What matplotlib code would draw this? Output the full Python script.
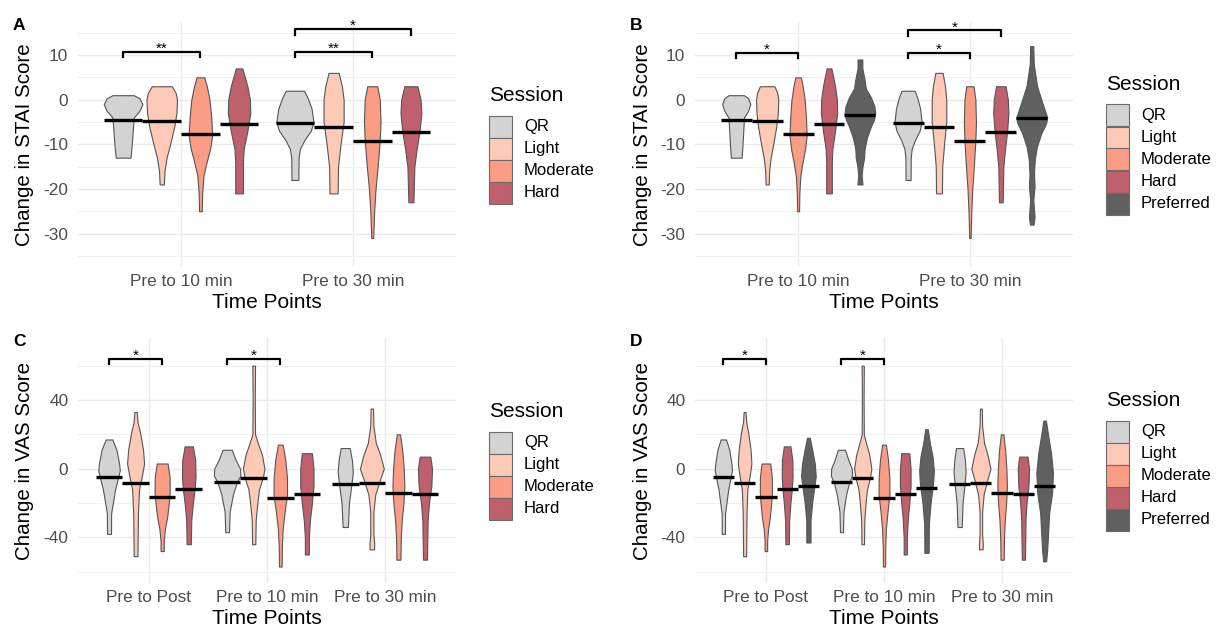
import numpy as np
import matplotlib
matplotlib.use('Agg')
import matplotlib.pyplot as plt
from matplotlib.patches import Rectangle

plt.rcParams['font.family'] = ['Liberation Sans', 'DejaVu Sans']
plt.rcParams['axes.unicode_minus'] = False

W, H = 1217, 630

sessions = ['QR', 'Light', 'Moderate', 'Hard', 'Preferred']
session_colors = ['#D3D3D3', '#FCCAB6', '#FB9C85', '#C0606D', '#606060']

stai_times = ['Pre to 10 min', 'Pre to 30 min']
vas_times = ['Pre to Post', 'Pre to 10 min', 'Pre to 30 min']

# violin outlines: (score change, relative density width), top to bottom
stai10_qr = [(1, 0.55), (0.3, 0.85), (-1, 1.0), (-2.5, 0.85), (-4, 0.55), (-7, 0.5), (-10, 0.45), (-13, 0.38)]
stai10_light = [(3, 0.52), (1.5, 0.72), (0, 0.79), (-3, 0.76), (-6, 0.65), (-10, 0.43), (-13, 0.25), (-16, 0.14), (-19, 0.11)]
stai10_mod = [(5, 0.2), (3, 0.33), (0, 0.47), (-4, 0.56), (-8, 0.61), (-11, 0.5), (-14, 0.32), (-17, 0.16), (-21, 0.09), (-25, 0.07)]
stai10_hard = [(7, 0.17), (5, 0.3), (3, 0.43), (0, 0.56), (-3, 0.58), (-7, 0.43), (-11, 0.24), (-14, 0.2), (-21, 0.2)]
stai10_pref = [(9, 0.17), (7, 0.17), (4.5, 0.33), (2.5, 0.42), (0.5, 0.78), (-1.5, 1.03), (-3, 1.09), (-4.5, 1.0),
               (-6, 0.78), (-8.5, 0.5), (-11, 0.33), (-13, 0.3), (-15, 0.18), (-17, 0.12), (-19, 0.18)]

stai30_qr = [(2, 0.47), (0.5, 0.65), (-2, 0.86), (-5, 0.96), (-7, 0.82), (-9, 0.5), (-11, 0.26), (-13, 0.19), (-18, 0.18)]
stai30_light = [(6, 0.26), (3, 0.43), (0, 0.52), (-5, 0.52), (-10, 0.36), (-15, 0.23), (-21, 0.21)]
stai30_mod = [(3, 0.26), (0, 0.39), (-5, 0.43), (-9, 0.39), (-15, 0.28), (-20, 0.17), (-25, 0.1), (-31, 0.05)]
stai30_hard = [(3, 0.34), (0, 0.5), (-3, 0.54), (-7, 0.45), (-11, 0.3), (-15, 0.18), (-23, 0.13)]
stai30_pref = [(12, 0.11), (8, 0.14), (5, 0.28), (3, 0.38), (0.5, 0.63), (-2.3, 0.92), (-4, 1.1), (-5.3, 1.02),
               (-7.6, 0.67), (-10.6, 0.36), (-13.5, 0.21), (-16.5, 0.16), (-19.5, 0.2), (-22.5, 0.11), (-26.3, 0.2), (-28, 0.13)]

vaspp_qr = [(17, 0.25), (11, 0.56), (3, 0.76), (-1, 0.81), (-5, 0.69), (-12, 0.46), (-20, 0.29), (-26, 0.16), (-38, 0.15)]
vaspp_light = [(33, 0.09), (27, 0.15), (21, 0.34), (11, 0.56), (3, 0.64), (-4, 0.48), (-12, 0.26), (-26, 0.18), (-51, 0.14)]
vaspp_mod = [(3, 0.41), (-5, 0.56), (-14, 0.57), (-20, 0.5), (-28, 0.38), (-35, 0.21), (-42, 0.12), (-48, 0.12)]
vaspp_hard = [(13, 0.31), (5, 0.49), (-5, 0.51), (-12, 0.44), (-20, 0.31), (-30, 0.19), (-44, 0.16)]
vaspp_pref = [(18, 0.13), (11, 0.36), (3, 0.6), (-4.5, 0.69), (-10, 0.57), (-20, 0.35), (-30, 0.2), (-43, 0.2)]

vas10_qr = [(11, 0.34), (5, 0.65), (0, 0.97), (-4, 1.0), (-8, 0.72), (-15, 0.44), (-25, 0.19), (-37, 0.14)]
vas10_light = [(60, 0.1), (40, 0.08), (20, 0.1), (14, 0.35), (8, 0.62), (0, 0.81), (-5, 0.69), (-12, 0.4),
               (-20, 0.27), (-30, 0.15), (-44, 0.12)]
vas10_mod = [(14, 0.18), (5, 0.38), (-5, 0.5), (-15, 0.51), (-25, 0.33), (-35, 0.18), (-45, 0.12), (-57, 0.1)]
vas10_hard = [(9, 0.38), (0, 0.5), (-10, 0.5), (-20, 0.38), (-30, 0.23), (-40, 0.15), (-50, 0.15)]
vas10_pref = [(23, 0.12), (15, 0.31), (7, 0.57), (-1, 0.69), (-8, 0.63), (-20, 0.38), (-32, 0.22), (-49, 0.2)]

vas30_qr = [(12, 0.34), (5, 0.5), (-2, 0.57), (-10, 0.45), (-20, 0.28), (-34, 0.2)]
vas30_light = [(35, 0.09), (25, 0.12), (15, 0.3), (8, 0.63), (0, 0.9), (-6, 0.63), (-15, 0.26), (-25, 0.12),
               (-38, 0.12), (-44, 0.18), (-47, 0.17)]
vas30_mod = [(20, 0.12), (10, 0.3), (0, 0.4), (-10, 0.45), (-20, 0.38), (-30, 0.25), (-40, 0.18), (-53, 0.15)]
vas30_hard = [(7, 0.4), (0, 0.53), (-10, 0.48), (-20, 0.3), (-30, 0.2), (-40, 0.18), (-53, 0.15)]
vas30_pref = [(28, 0.12), (19, 0.34), (9, 0.6), (-2.5, 0.78), (-14, 0.7), (-26, 0.42), (-37, 0.33), (-47, 0.24), (-54, 0.14)]

stai_profiles = [[stai10_qr, stai10_light, stai10_mod, stai10_hard, stai10_pref],
                 [stai30_qr, stai30_light, stai30_mod, stai30_hard, stai30_pref]]
vas_profiles = [[vaspp_qr, vaspp_light, vaspp_mod, vaspp_hard, vaspp_pref],
                [vas10_qr, vas10_light, vas10_mod, vas10_hard, vas10_pref],
                [vas30_qr, vas30_light, vas30_mod, vas30_hard, vas30_pref]]

# median lines
stai_med10 = [-4.6, -4.8, -7.8, -5.5, -3.5]
stai_med30 = [-5.2, -6.2, -9.2, -7.2, -4.2]
vas_medpp = [-5.0, -8.3, -16.5, -11.7, -9.9]
vas_med10 = [-7.6, -5.4, -16.9, -15.0, -11.3]
vas_med30 = [-8.9, -8.2, -14.2, -14.6, -10.3]

# significance brackets: (time index, session a, session b, height, label)
stai_brackets4 = [(0, 0, 2, 10.7, '**'), (1, 0, 2, 10.7, '**'), (1, 0, 3, 15.8, '*')]
stai_brackets5 = [(0, 0, 2, 10.5, '*'), (1, 0, 2, 10.5, '*'), (1, 0, 3, 15.5, '*')]
vas_brackets = [(0, 0, 2, 64, '*'), (1, 0, 2, 64, '*')]


def xpos(i, j, n):
    return i + (j - (n - 1) / 2) * 0.9 / n


def setup_axes(ax, times, ylim, major, minor, ylabel):
    ax.set_xlim(-0.6, len(times) - 0.4)
    ax.set_ylim(*ylim)
    ax.set_xticks(range(len(times)), times)
    ax.set_yticks(major)
    ax.set_yticks(minor, minor=True)
    ax.set_axisbelow(True)
    ax.grid(which='major', color='#EBEBEB', lw=1.0)
    ax.grid(which='minor', axis='y', color='#F0F0F0', lw=0.8)
    for s in ax.spines.values():
        s.set_visible(False)
    ax.tick_params(which='both', length=0)
    ax.tick_params(axis='y', pad=7, labelsize=12.4, labelcolor='#4D4D4D')
    ax.tick_params(axis='x', pad=5, labelsize=12.4, labelcolor='#4D4D4D')
    ax.set_xlabel('Time Points', fontsize=15)
    ax.xaxis.label.set_va('center')
    ax.xaxis.set_label_coords(0.5, -35 / 245)
    ax.set_ylabel(ylabel, fontsize=14.8)
    ax.yaxis.label.set_va('center')
    ax.yaxis.set_label_coords(-53 / 378, 0.5)


def draw_violins(ax, profiles, medians, n):
    d = 0.9 / n
    wmax = max(w for grp in profiles for p in grp[:n] for _, w in p)
    for i, (grp, meds) in enumerate(zip(profiles, medians)):
        for j in range(n):
            xc = xpos(i, j, n)
            ys, ws = np.array(grp[j], dtype=float).T
            half = ws / wmax * d / 2
            ax.fill_betweenx(ys, xc - half, xc + half, facecolor=session_colors[j],
                             edgecolor='#555555', linewidth=0.8, zorder=2)
            ax.plot([xc - d / 2, xc + d / 2], [meds[j], meds[j]], color='black', lw=2.4,
                    solid_capstyle='butt', zorder=3)


def draw_brackets(ax, brackets, n):
    lo, hi = ax.get_ylim()
    tip = 0.022 * (hi - lo)
    for i, a, b, y, lab in brackets:
        x1, x2 = xpos(i, a, n), xpos(i, b, n)
        ax.plot([x1, x1, x2, x2], [y - tip, y, y, y - tip], color='black', lw=1.6,
                clip_on=False, zorder=4)
        ax.text((x1 + x2) / 2, y - 0.004 * (hi - lo), lab, ha='center', va='baseline', fontsize=11)


def draw_legend(fig, left, center, n):
    key_w, key_h = 23, 22
    top = center - (32 + key_h * n) / 2
    fig.text(left / W, 1 - (top + 12) / H, 'Session', fontsize=15, ha='left', va='center')
    for j in range(n):
        y0 = top + 32 + j * key_h
        fig.add_artist(Rectangle((left / W, 1 - (y0 + key_h) / H), key_w / W, key_h / H,
                                 transform=fig.transFigure, facecolor=session_colors[j],
                                 edgecolor='#6B6B6B', lw=0.8))
        fig.text((left + key_w + 12) / W, 1 - (y0 + key_h / 2) / H, sessions[j],
                 fontsize=12, ha='left', va='center')


fig = plt.figure(figsize=(W / 100, H / 100), dpi=100)
fig.patch.set_facecolor('white')

panels = [
    ('A', 78, 22, stai_times, stai_profiles, [stai_med10, stai_med30], 4, stai_brackets4, 'STAI'),
    ('B', 695, 22, stai_times, stai_profiles, [stai_med10, stai_med30], 5, stai_brackets5, 'STAI'),
    ('C', 78, 338, vas_times, vas_profiles, [vas_medpp, vas_med10, vas_med30], 4, vas_brackets, 'VAS'),
    ('D', 695, 338, vas_times, vas_profiles, [vas_medpp, vas_med10, vas_med30], 5, vas_brackets, 'VAS'),
]

for letter, left, top, times, profiles, medians, n, brackets, scale in panels:
    ax = fig.add_axes([left / W, 1 - (top + 245) / H, 378 / W, 245 / H])
    if scale == 'STAI':
        setup_axes(ax, times, (-37.5, 17.4), [10, 0, -10, -20, -30], [15, 5, -5, -15, -25, -35],
                   'Change in STAI Score')
    else:
        setup_axes(ax, times, (-66.6, 76.1), [40, 0, -40], [60, 20, -20, -60],
                   'Change in VAS Score')
    draw_violins(ax, profiles, medians, n)
    draw_brackets(ax, brackets, n)
    fig.text((left - 65) / W, 1 - (top + 4) / H, letter, fontsize=12.5, fontweight='bold',
             ha='left', va='center')
    draw_legend(fig, left + 411, top + 121.5, n)

fig.savefig('out.png', dpi=100)
